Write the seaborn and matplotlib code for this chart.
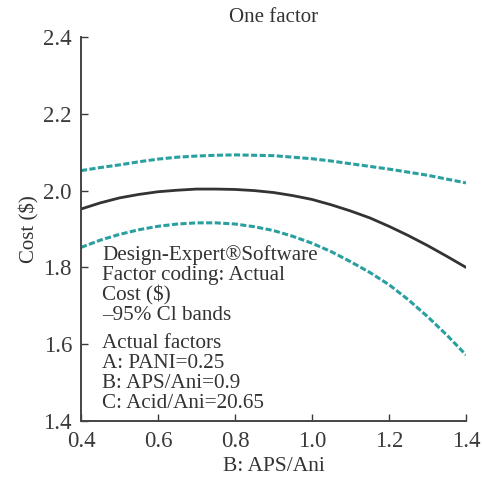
import matplotlib
matplotlib.use("Agg")
import matplotlib.pyplot as plt
import seaborn as sns
import pandas as pd

x_vals = [0.4, 0.45, 0.5, 0.55, 0.6, 0.65, 0.7, 0.75, 0.8, 0.85, 0.9,
          0.95, 1.0, 1.05, 1.1, 1.15, 1.2, 1.25, 1.3, 1.35, 1.4]
cost_pred = [1.952, 1.968, 1.981, 1.990, 1.997, 2.001, 2.004, 2.004, 2.003, 2.000, 1.995,
             1.987, 1.977, 1.963, 1.947, 1.929, 1.907, 1.883, 1.857, 1.829, 1.800]
ci_upper = [2.052, 2.060, 2.067, 2.075, 2.082, 2.087, 2.090, 2.092, 2.093, 2.092, 2.091,
            2.087, 2.083, 2.077, 2.070, 2.063, 2.056, 2.048, 2.040, 2.030, 2.020]
ci_lower = [1.852, 1.871, 1.886, 1.898, 1.907, 1.913, 1.916, 1.916, 1.913, 1.906, 1.896,
            1.881, 1.863, 1.841, 1.815, 1.787, 1.755, 1.716, 1.672, 1.624, 1.572]

title = "One factor"
xlabel = "B: APS/Ani"
ylabel = "Cost ($)"
xticks = [0.4, 0.6, 0.8, 1.0, 1.2, 1.4]
yticks = [1.4, 1.6, 1.8, 2.0, 2.2, 2.4]
info_lines = ["Design-Expert\u00aeSoftware", "Factor coding: Actual", "Cost ($)", "\u201395% Cl bands"]
factor_lines = ["Actual factors", "A: PANI=0.25", "B: APS/Ani=0.9", "C: Acid/Ani=20.65"]

sns.set_theme(style="ticks")
plt.rcParams['font.family'] = ['Liberation Serif', 'DejaVu Serif']
plt.rcParams['mathtext.default'] = 'regular'

df = pd.DataFrame({"x": x_vals, "pred": cost_pred, "up": ci_upper, "lo": ci_lower})

fig = plt.figure(figsize=(4.82, 4.78), dpi=100)
ax = fig.add_axes([81/482, 1-421/478, 385/482, 384/478])

teal = "#2a9f9f"
sns.lineplot(data=df, x="x", y="pred", ax=ax, color="#333333", lw=2.0)
sns.lineplot(data=df, x="x", y="up", ax=ax, color=teal, lw=2.2)
sns.lineplot(data=df, x="x", y="lo", ax=ax, color=teal, lw=2.2)
for ln in ax.lines[1:]:
    ln.set_dashes([2.0, 0.8])

ax.set_xlim(0.4, 1.4)
ax.set_ylim(1.4, 2.4)
ax.set_xticks(xticks)
ax.set_yticks(yticks)
ax.set_xticklabels([f"{v:.1f}" for v in xticks])
ax.set_yticklabels([f"{v:.1f}" for v in yticks])
ax.tick_params(direction="in", length=5, width=1, labelsize=16.5, colors="#3a3a3a")
ax.tick_params(axis="x", pad=7)
ax.tick_params(axis="y", pad=6.5)
for s in ["top", "right"]:
    ax.spines[s].set_visible(False)
for s in ["left", "bottom"]:
    ax.spines[s].set_color("#444444")
    ax.spines[s].set_linewidth(1.4)

ax.set_xlabel(xlabel, fontsize=15.5, color="#333333", labelpad=4)
ax.set_ylabel(ylabel, fontsize=15, color="#333333", labelpad=3)
ax.set_title(title, fontsize=15, color="#333333", pad=11)

def yax(p):
    return (421 - p) / 384

tx = (102 - 81) / 385
for i, t in enumerate(info_lines):
    ax.text(tx, yax(255 + 20 * i), t, transform=ax.transAxes, fontsize=15.2,
            color="#333333", va="center", ha="left")
for i, t in enumerate(factor_lines):
    ax.text(tx, yax(343 + 20 * i), t, transform=ax.transAxes, fontsize=15.2,
            color="#333333", va="center", ha="left")

fig.savefig("out.png", dpi=100)
